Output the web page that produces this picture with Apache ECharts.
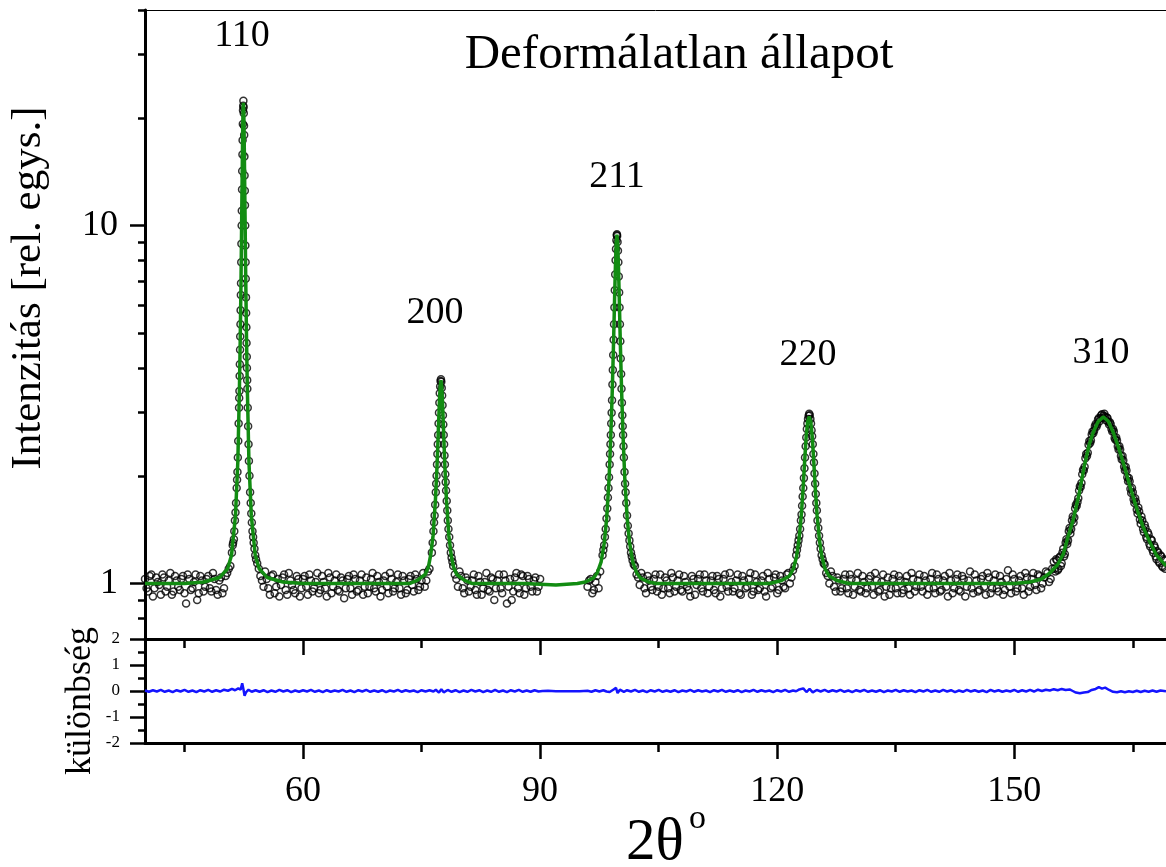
<!DOCTYPE html>
<html><head><meta charset="utf-8">
<script src="https://cdn.jsdelivr.net/npm/echarts@6/dist/echarts.min.js"></script>
<style>html,body{margin:0;padding:0;background:#fff}#c{width:1166px;height:867px}</style>
</head><body><div id="c"></div><script>
// ---- axis ranges / ticks ----
const xMin = 40, xMax = 169.2;
const xMajorTicks = [60, 90, 120, 150];
const xMinorTicks = [45, 75, 105, 135, 165];
const yTopMin = 0.7, yTopMax = 40;
const yTopMajorTicks = [1, 10];
const yTopMinorTicks = [0.8, 0.9, 2, 3, 4, 5, 6, 7, 8, 9, 20, 30, 40];
const diffMin = -2, diffMax = 2;
const peakLabels = ['110', '200', '211', '220', '310'];

// ---- measured intensity (open circles) ----
const obsBg1 = [[40.0,1.03],[40.4,0.95],[40.8,1.06],[41.2,0.97],[41.6,1.01],[42.0,0.93],[42.4,1.04],[42.8,0.98],[43.2,1.07],[43.6,0.95],[44.0,1.02],[44.4,0.96],[44.8,1.05],[45.2,0.88],[45.6,1.03],[46.0,0.97],[46.4,1.06],[46.8,0.94],[47.2,1.02],[47.6,0.98],[48.0,1.05],[48.4,0.95],[48.8,1.03],[49.2,0.93],[49.6,1.04],[50.0,0.97],[50.4,1.07],[50.8,1.12]];
const obsBg1b = [[40.2,0.97],[40.6,1.05],[41.0,0.92],[41.4,1.04],[41.8,0.99],[42.2,1.06],[42.6,0.95],[43.0,1.02],[43.4,0.93],[43.8,1.05],[44.2,0.98],[44.6,1.03],[45.0,0.94],[45.4,1.06],[45.8,0.96],[46.2,1.01],[46.6,0.9],[47.0,1.05],[47.4,0.95],[47.8,1.03],[48.2,0.97],[48.6,1.07],[49.0,0.96],[49.4,1.02],[49.8,0.94],[50.2,1.05],[50.6,1.1]];
const obsPeak110 = [[51.0,1.22],[51.15,1.3],[51.3,1.4],[51.45,1.58],[51.6,1.85],[51.7,2.05],[51.8,2.5],[51.9,3.1],[51.95,3.45],[52.0,4.1],[52.05,4.9],[52.1,5.8],[52.15,6.9],[52.2,8.9],[52.25,11.0],[52.3,14.2],[52.35,17.3],[52.4,21.0],[52.45,22.3],[52.5,20.6],[52.55,17.9],[52.6,13.8],[52.65,11.4],[52.7,8.8],[52.75,7.1],[52.8,5.7],[52.85,4.7],[52.9,4.0],[52.95,3.5],[53.05,2.75],[53.15,2.2],[53.3,1.8],[53.45,1.57],[53.6,1.4],[53.75,1.3],[53.95,1.2],[54.2,1.14]];
const obsPeak110b = [[51.1,1.28],[51.25,1.33],[51.38,1.5],[51.52,1.68],[51.65,1.95],[51.75,2.25],[51.85,2.8],[51.92,3.3],[51.98,3.8],[52.03,4.5],[52.08,5.3],[52.13,6.4],[52.18,7.9],[52.23,10.0],[52.28,12.6],[52.33,15.8],[52.38,19.2],[52.43,21.6],[52.48,21.4],[52.53,19.0],[52.58,15.6],[52.63,12.5],[52.68,10.0],[52.73,7.9],[52.78,6.3],[52.83,5.2],[52.88,4.3],[52.93,3.7],[53.0,3.1],[53.1,2.45],[53.22,2.0],[53.38,1.68],[53.52,1.48],[53.68,1.35],[53.85,1.25],[54.05,1.17]];
const obsBg2 = [[54.4,1.1],[54.8,1.02],[55.2,1.08],[55.6,0.97],[56.0,1.05],[56.4,0.94],[56.8,1.03],[57.2,0.99],[57.6,1.06],[58.0,0.93],[58.4,1.02],[58.8,0.96],[59.2,1.05],[59.6,0.92],[60.0,1.03],[60.4,0.98],[60.8,1.06],[61.2,0.95],[61.6,1.01],[62.0,0.94],[62.4,1.05],[62.8,0.97],[63.2,1.07],[63.6,0.94],[64.0,1.02],[64.4,0.96],[64.8,1.04],[65.2,0.91],[65.6,1.03],[66.0,0.97],[66.4,1.06],[66.8,0.95],[67.2,1.02],[67.6,0.93],[68.0,1.04],[68.4,0.98],[68.8,1.07],[69.2,0.95],[69.6,1.01],[70.0,0.96],[70.4,1.05],[70.8,0.94],[71.2,1.03],[71.6,0.97],[72.0,1.06],[72.4,0.93],[72.8,1.02],[73.2,0.96],[73.6,1.05],[74.0,0.95],[74.4,1.03],[74.8,0.98],[75.2,1.07],[75.6,1.02],[76.0,1.1]];
const obsBg2b = [[54.6,1.05],[55.0,0.98],[55.4,1.03],[55.8,0.93],[56.2,1.06],[56.6,0.98],[57.0,0.92],[57.4,1.04],[57.8,0.96],[58.2,1.07],[58.6,0.99],[59.0,0.94],[59.4,1.03],[59.8,0.97],[60.2,1.05],[60.6,0.93],[61.0,1.02],[61.4,0.97],[61.8,1.07],[62.2,0.96],[62.6,1.01],[63.0,0.92],[63.4,1.04],[63.8,0.98],[64.2,1.06],[64.6,0.95],[65.0,1.02],[65.4,0.97],[65.8,1.05],[66.2,0.93],[66.6,1.03],[67.0,0.96],[67.4,1.06],[67.8,0.98],[68.2,0.94],[68.6,1.03],[69.0,0.97],[69.4,1.05],[69.8,0.92],[70.2,1.02],[70.6,0.98],[71.0,1.07],[71.4,0.95],[71.8,1.01],[72.2,0.97],[72.6,1.05],[73.0,0.94],[73.4,1.03],[73.8,0.99],[74.2,1.06],[74.6,0.96],[75.0,1.02],[75.4,0.98],[75.8,1.08]];
const obsPeak200 = [[76.3,1.22],[76.5,1.4],[76.65,1.55],[76.8,1.8],[76.9,2.0],[77.0,2.3],[77.1,2.6],[77.2,3.0],[77.3,3.4],[77.4,3.68],[77.5,3.66],[77.6,3.35],[77.7,2.95],[77.8,2.6],[77.9,2.28],[78.0,2.02],[78.1,1.82],[78.25,1.6],[78.4,1.42],[78.6,1.28],[78.8,1.18]];
const obsPeak200b = [[76.4,1.3],[76.58,1.48],[76.72,1.66],[76.85,1.9],[76.95,2.15],[77.05,2.45],[77.15,2.8],[77.25,3.2],[77.35,3.55],[77.45,3.72],[77.55,3.52],[77.65,3.15],[77.75,2.78],[77.85,2.45],[77.95,2.15],[78.05,1.92],[78.18,1.7],[78.32,1.5],[78.5,1.35],[78.7,1.22],[78.9,1.15]];
const obsBg3 = [[79.0,1.12],[79.4,1.03],[79.8,1.08],[80.2,0.97],[80.6,1.04],[81.0,0.95],[81.4,1.02],[81.8,0.96],[82.2,1.05],[82.6,0.93],[83.0,1.01],[83.4,0.96],[83.8,1.04],[84.2,0.9],[84.6,1.02],[85.0,0.97],[85.4,1.06],[85.8,0.88],[86.2,1.03],[86.6,0.95],[87.0,1.07],[87.4,0.94],[87.8,1.05],[88.2,0.97],[88.6,1.03],[89.0,0.95],[89.4,1.04],[89.8,0.98]];
const obsBg3b = [[79.2,1.06],[79.6,0.98],[80.0,1.05],[80.4,0.94],[80.8,1.02],[81.2,0.98],[81.6,1.06],[82.0,0.93],[82.4,1.01],[82.8,0.97],[83.2,1.07],[83.6,0.95],[84.0,1.03],[84.4,0.97],[84.8,1.06],[85.2,0.94],[85.6,1.02],[86.0,0.98],[86.4,0.9],[86.8,1.04],[87.2,0.97],[87.6,1.06],[88.0,0.93],[88.4,1.05],[88.8,0.98],[89.2,1.02],[89.6,0.95],[90.0,1.03]];
const obsBg4 = [[96.0,0.98],[96.2,1.02],[96.4,1.03],[96.6,0.94],[96.8,0.96],[97.0,1.01],[97.2,1.05],[97.4,0.97],[97.6,1.08]];
const obsPeak211 = [[97.9,1.2],[98.1,1.28],[98.3,1.42],[98.5,1.62],[98.65,1.85],[98.8,2.15],[98.9,2.45],[99.0,2.8],[99.1,3.25],[99.2,3.95],[99.3,4.8],[99.4,5.9],[99.5,7.3],[99.6,8.6],[99.7,9.4],[99.75,9.35],[99.8,9.0],[99.9,7.9],[100.0,6.5],[100.1,5.3],[100.2,4.25],[100.3,3.5],[100.4,2.95],[100.5,2.6],[100.6,2.25],[100.75,1.9],[100.9,1.68],[101.1,1.45],[101.3,1.32],[101.5,1.22],[101.7,1.16]];
const obsPeak211b = [[98.0,1.24],[98.2,1.35],[98.4,1.52],[98.58,1.74],[98.72,1.98],[98.85,2.3],[98.95,2.6],[99.05,3.0],[99.15,3.6],[99.25,4.35],[99.35,5.3],[99.45,6.6],[99.55,8.0],[99.65,9.1],[99.72,9.45],[99.85,8.5],[99.95,7.2],[100.05,5.9],[100.15,4.75],[100.25,3.85],[100.35,3.2],[100.45,2.75],[100.55,2.42],[100.68,2.05],[100.82,1.8],[101.0,1.55],[101.2,1.38],[101.4,1.27],[101.6,1.19],[101.85,1.13]];
const obsBg5 = [[102.0,1.12],[102.4,1.04],[102.8,1.07],[103.2,0.97],[103.6,1.05],[104.0,0.98],[104.4,1.03],[104.8,0.95],[105.2,1.06],[105.6,0.97],[106.0,1.02],[106.4,0.94],[106.8,1.04],[107.2,0.98],[107.6,1.06],[108.0,0.95],[108.4,1.01],[108.8,0.96],[109.2,1.05],[109.6,0.93],[110.0,1.03],[110.4,0.97],[110.8,1.06],[111.2,0.94],[111.6,1.02],[112.0,0.96],[112.4,1.05],[112.8,0.92],[113.2,1.03],[113.6,0.98],[114.0,1.07],[114.4,0.95],[114.8,1.02],[115.2,0.94],[115.6,1.05],[116.0,0.97],[116.4,1.03],[116.8,0.93],[117.2,1.06],[117.6,0.96],[118.0,1.02],[118.4,0.95],[118.8,1.07],[119.2,0.97],[119.6,1.04],[120.0,0.94],[120.4,1.05],[120.8,0.98],[121.2,1.06],[121.6,1.0],[122.0,1.09]];
const obsBg5b = [[102.2,1.06],[102.6,0.99],[103.0,1.04],[103.4,0.94],[103.8,1.02],[104.2,0.96],[104.6,1.06],[105.0,0.98],[105.4,0.93],[105.8,1.04],[106.2,0.97],[106.6,1.07],[107.0,0.95],[107.4,1.02],[107.8,0.96],[108.2,1.05],[108.6,0.98],[109.0,0.92],[109.4,1.03],[109.8,0.99],[110.2,1.06],[110.6,0.95],[111.0,1.02],[111.4,0.98],[111.8,1.05],[112.2,0.94],[112.6,1.03],[113.0,0.97],[113.4,1.06],[113.8,0.95],[114.2,1.01],[114.6,0.97],[115.0,1.06],[115.4,0.93],[115.8,1.02],[116.2,0.98],[116.6,1.07],[117.0,0.95],[117.4,1.01],[117.8,0.97],[118.2,1.05],[118.6,0.92],[119.0,1.03],[119.4,0.98],[119.8,1.06],[120.2,0.96],[120.6,1.02],[121.0,0.97],[121.4,1.07],[121.8,1.04],[122.2,1.12]];
const obsPeak220 = [[122.4,1.2],[122.6,1.28],[122.8,1.36],[123.0,1.5],[123.15,1.65],[123.3,1.85],[123.45,2.1],[123.6,2.42],[123.75,2.7],[123.9,2.88],[124.05,2.98],[124.2,2.88],[124.35,2.68],[124.5,2.45],[124.65,2.18],[124.8,1.9],[124.95,1.68],[125.1,1.5],[125.3,1.36],[125.5,1.25],[125.75,1.17]];
const obsPeak220b = [[122.5,1.24],[122.7,1.32],[122.9,1.42],[123.08,1.56],[123.22,1.75],[123.38,1.97],[123.52,2.25],[123.68,2.56],[123.82,2.8],[123.98,2.94],[124.12,2.95],[124.28,2.8],[124.42,2.58],[124.58,2.3],[124.72,2.03],[124.88,1.78],[125.02,1.6],[125.2,1.43],[125.4,1.3],[125.62,1.2],[125.88,1.14]];
const obsBg6 = [[126.0,1.13],[126.4,1.05],[126.8,1.08],[127.2,0.98],[127.6,1.04],[128.0,0.95],[128.4,1.03],[128.8,0.97],[129.2,1.06],[129.6,0.93],[130.0,1.02],[130.4,0.96],[130.8,1.05],[131.2,0.94],[131.6,1.03],[132.0,0.98],[132.4,1.07],[132.8,0.95],[133.2,1.01],[133.6,0.92],[134.0,1.04],[134.4,0.97],[134.8,1.06],[135.2,0.94],[135.6,1.02],[136.0,0.96],[136.4,1.05],[136.8,0.93],[137.2,1.03],[137.6,0.98],[138.0,1.06],[138.4,0.95],[138.8,1.02],[139.2,0.97],[139.6,1.07],[140.0,0.94],[140.4,1.03],[140.8,0.96],[141.2,1.05],[141.6,0.92],[142.0,1.02],[142.4,0.97],[142.8,1.06],[143.2,0.95],[143.6,1.03],[144.0,0.98],[144.4,1.08],[144.8,0.94],[145.2,1.02],[145.6,0.96],[146.0,1.05],[146.4,0.93],[146.8,1.04],[147.2,0.97],[147.6,1.06],[148.0,0.95],[148.4,1.01],[148.8,0.96],[149.2,1.09],[149.6,0.94],[150.0,1.03],[150.4,0.97],[150.8,1.05],[151.2,0.93],[151.6,1.04],[152.0,0.98],[152.4,1.07],[152.8,0.96],[153.2,1.05],[153.6,1.0],[154.0,1.08],[154.4,1.01],[154.8,1.1]];
const obsBg6b = [[126.2,1.07],[126.6,1.0],[127.0,1.05],[127.4,0.95],[127.8,1.02],[128.2,0.97],[128.6,1.06],[129.0,0.94],[129.4,1.03],[129.8,0.98],[130.2,1.07],[130.6,0.95],[131.0,1.01],[131.4,0.97],[131.8,1.05],[132.2,0.93],[132.6,1.02],[133.0,0.96],[133.4,1.06],[133.8,0.98],[134.2,0.93],[134.6,1.03],[135.0,0.97],[135.4,1.05],[135.8,0.94],[136.2,1.01],[136.6,0.97],[137.0,1.07],[137.4,0.95],[137.8,1.02],[138.2,0.98],[138.6,1.05],[139.0,0.93],[139.4,1.03],[139.8,0.97],[140.2,1.06],[140.6,0.95],[141.0,1.02],[141.4,0.98],[141.8,1.07],[142.2,0.94],[142.6,1.03],[143.0,0.96],[143.4,1.05],[143.8,0.92],[144.2,1.02],[144.6,0.97],[145.0,1.06],[145.4,0.95],[145.8,1.03],[146.2,0.98],[146.6,1.07],[147.0,0.94],[147.4,1.02],[147.8,0.97],[148.2,1.05],[148.6,0.93],[149.0,1.03],[149.4,0.98],[149.8,1.06],[150.2,0.95],[150.6,1.02],[151.0,0.97],[151.4,1.07],[151.8,0.95],[152.2,1.03],[152.6,0.99],[153.0,1.06],[153.4,0.97],[153.8,1.04],[154.2,1.07],[154.6,1.03]];
const obsPeak310 = [[155.0,1.15],[155.2,1.08],[155.4,1.16],[155.6,1.1],[155.8,1.19],[156.0,1.14],[156.2,1.25],[156.4,1.21],[156.6,1.33],[156.8,1.32],[157.0,1.43],[157.2,1.42],[157.4,1.54],[157.6,1.53],[157.8,1.66],[158.0,1.69],[158.2,1.82],[158.4,1.86],[158.6,2.02],[158.8,2.07],[159.0,2.24],[159.2,2.27],[159.4,2.44],[159.6,2.47],[159.8,2.61],[160.0,2.63],[160.2,2.75],[160.4,2.74],[160.6,2.87],[160.8,2.84],[161.0,2.95],[161.2,2.9],[161.4,2.98],[161.6,2.86],[161.8,2.9],[162.0,2.78],[162.2,2.79],[162.4,2.66],[162.6,2.66],[162.8,2.52],[163.0,2.51],[163.2,2.37],[163.4,2.37],[163.6,2.22],[163.8,2.21],[164.0,2.07],[164.2,2.07],[164.4,1.93],[164.6,1.93],[164.8,1.79],[165.0,1.8],[165.2,1.68],[165.4,1.69],[165.6,1.57],[165.8,1.59],[166.0,1.47],[166.2,1.5],[166.4,1.39],[166.6,1.43],[166.8,1.33],[167.0,1.37],[167.2,1.27],[167.4,1.32],[167.6,1.22],[167.8,1.26],[168.0,1.17],[168.2,1.22],[168.4,1.14],[168.6,1.19],[168.8,1.11],[169.0,1.16]];
const obsPeak310b = [[155.1,1.1],[155.3,1.17],[155.5,1.09],[155.7,1.18],[155.9,1.12],[156.1,1.22],[156.3,1.19],[156.5,1.3],[156.7,1.29],[156.9,1.4],[157.1,1.38],[157.3,1.5],[157.5,1.48],[157.7,1.62],[157.9,1.65],[158.1,1.73],[158.3,1.87],[158.5,1.91],[158.7,2.08],[158.9,2.12],[159.1,2.3],[159.3,2.32],[159.5,2.5],[159.7,2.51],[159.9,2.66],[160.1,2.67],[160.3,2.79],[160.5,2.78],[160.7,2.9],[160.9,2.89],[161.1,2.97],[161.3,2.94],[161.5,2.93],[161.7,2.91],[161.9,2.83],[162.1,2.82],[162.3,2.7],[162.5,2.7],[162.7,2.55],[162.9,2.56],[163.1,2.42],[163.3,2.42],[163.5,2.27],[163.7,2.27],[163.9,2.12],[164.1,2.12],[164.3,1.98],[164.5,1.97],[164.7,1.84],[164.9,1.85],[165.1,1.72],[165.3,1.73],[165.5,1.61],[165.7,1.63],[165.9,1.51],[166.1,1.54],[166.3,1.42],[166.5,1.46],[166.7,1.35],[166.9,1.39],[167.1,1.29],[167.3,1.33],[167.5,1.24],[167.7,1.28],[167.9,1.19],[168.1,1.23],[168.3,1.15],[168.5,1.2],[168.7,1.12],[168.9,1.17],[169.1,1.1]];

// ---- fitted profile (green) ----
const fitCurve = [[40,1.0],[45,1.0],[47.45,1.01],[49.45,1.04],[50.45,1.1],[50.95,1.2],[51.45,1.55],[51.75,2.2],[51.95,3.5],[52.05,4.8],[52.15,7.0],[52.25,11.2],[52.3,14.0],[52.35,17.6],[52.4,20.8],[52.45,22.0],[52.5,20.8],[52.55,17.6],[52.6,14.0],[52.65,11.2],[52.75,7.0],[52.85,4.8],[52.95,3.5],[53.15,2.2],[53.45,1.55],[53.95,1.2],[54.45,1.1],[55.45,1.04],[57.45,1.01],[60,1.0],
[70,1.0],[73.45,1.0],[74.45,1.02],[75.45,1.06],[75.85,1.11],[76.15,1.2],[76.45,1.36],[76.75,1.71],[76.95,2.12],[77.05,2.42],[77.15,2.79],[77.25,3.2],[77.35,3.56],[77.45,3.7],[77.55,3.56],[77.65,3.2],[77.75,2.79],[77.85,2.42],[77.95,2.12],[78.15,1.71],[78.45,1.36],[78.75,1.2],[79.05,1.11],[79.45,1.06],[80.45,1.02],[81.45,1.0],
[88,1.0],[92,0.99],[94.72,1.0],[95.72,1.01],[96.72,1.035],[97.22,1.07],[97.72,1.15],[98.12,1.3],[98.42,1.52],[98.72,1.95],[98.92,2.5],[99.12,3.4],[99.22,4.1],[99.32,5.0],[99.42,6.2],[99.52,7.6],[99.62,8.9],[99.72,9.43],[99.82,8.9],[99.92,7.6],[100.02,6.2],[100.12,5.0],[100.22,4.1],[100.32,3.4],[100.52,2.5],[100.72,1.95],[101.02,1.52],[101.32,1.3],[101.72,1.15],[102.22,1.07],[102.72,1.035],[103.72,1.01],[104.72,1.0],
[115,1.0],[119.05,1.0],[120.55,1.02],[121.55,1.05],[122.05,1.1],[122.45,1.19],[122.75,1.32],[123.05,1.55],[123.25,1.8],[123.45,2.15],[123.65,2.55],[123.85,2.83],[124.05,2.93],[124.25,2.83],[124.45,2.55],[124.65,2.15],[124.85,1.8],[125.05,1.55],[125.35,1.32],[125.65,1.19],[126.05,1.1],[126.55,1.05],[127.55,1.02],[129.05,1.0],
[145,1.0],[150,1.0],[152,1.01],[153.5,1.03],[154.5,1.07],[155.5,1.13],[156.2,1.21],[156.8,1.35],[157.5,1.52],[158.2,1.78],[158.9,2.15],[159.5,2.45],[160.0,2.65],[160.6,2.83],[161.25,2.92],[161.9,2.84],[162.5,2.65],[163.2,2.4],[164.0,2.1],[164.8,1.82],[165.5,1.62],[166.3,1.44],[167.2,1.3],[168.0,1.2],[169.2,1.12]];

// ---- difference (blue) ----
const diffData = [[40,0.02],[40.5,-0.03],[41,0.03],[41.5,-0.02],[42,0.04],[42.5,-0.03],[43,0.02],[43.5,-0.04],[44,0.03],[44.5,-0.02],[45,0.04],[45.5,-0.03],[46,0.02],[46.5,-0.04],[47,0.03],[47.5,-0.02],[48,0.04],[48.5,-0.03],[49,0.03],[49.5,-0.02],[50,0.05],[50.5,0.01],[51.0,0.08],[51.4,0.03],[51.8,0.1],[52.1,0.05],[52.3,0.3],[52.45,0.08],[52.6,-0.18],[52.8,-0.04],[53.1,0.05],[53.5,-0.03],[54,0.03],[54.5,-0.03],[55,0.03],[55.5,-0.04],[56,0.02],[56.5,-0.03],[57,0.04],[57.5,-0.02],[58,0.03],[58.5,-0.04],[59,0.02],[59.5,-0.03],[60,0.03],[60.5,-0.02],[61,0.04],[61.5,-0.03],[62,0.02],[62.5,-0.04],[63,0.03],[63.5,-0.03],[64,0.02],[64.5,-0.02],[65,0.04],[65.5,-0.03],[66,0.02],[66.5,-0.04],[67,0.03],[67.5,-0.02],[68,0.04],[68.5,-0.03],[69,0.02],[69.5,-0.03],[70,0.03],[70.5,-0.04],[71,0.02],[71.5,-0.02],[72,0.04],[72.5,-0.03],[73,0.03],[73.5,-0.02],[74,0.02],[74.5,-0.04],[75,0.03],[75.5,-0.02],[76,0.03],[76.5,-0.02],[76.8,0.05],[77.2,-0.06],[77.5,0.07],[77.8,-0.05],[78.3,0.04],[78.8,-0.03],[79.3,0.03],[79.8,-0.04],[80.3,0.02],[80.8,-0.03],[81.3,0.04],[81.8,-0.02],[82.3,0.03],[82.8,-0.04],[83.3,0.02],[83.8,-0.03],[84.3,0.04],[84.8,-0.03],[85.3,0.02],[85.8,-0.04],[86.3,0.03],[86.8,-0.02],[87.3,0.04],[87.8,-0.03],[88.3,0.02],[88.8,-0.03],[89.3,0.03],[89.8,-0.02],[90.3,0.0],[91,0.005],[92,-0.005],[93,-0.01],[94,-0.005],[95,-0.01],[96,0.01],[96.5,-0.03],[97,0.03],[97.5,-0.02],[98,0.03],[98.4,-0.02],[98.8,-0.04],[99.3,0.06],[99.6,0.12],[99.8,-0.08],[100.1,0.05],[100.6,-0.03],[101,0.03],[101.5,-0.02],[102,0.04],[102.5,-0.03],[103,0.02],[103.5,-0.04],[104,0.03],[104.5,-0.02],[105,0.04],[105.5,-0.03],[106,0.02],[106.5,-0.03],[107,0.03],[107.5,-0.04],[108,0.02],[108.5,-0.02],[109,0.04],[109.5,-0.03],[110,0.03],[110.5,-0.02],[111,0.02],[111.5,-0.04],[112,0.03],[112.5,-0.02],[113,0.04],[113.5,-0.03],[114,0.02],[114.5,-0.03],[115,0.03],[115.5,-0.04],[116,0.02],[116.5,-0.02],[117,0.04],[117.5,-0.03],[118,0.03],[118.5,-0.02],[119,0.02],[119.5,-0.04],[120,0.03],[120.5,-0.02],[121,0.04],[121.5,-0.03],[122,0.02],[122.4,-0.01],[122.8,0.06],[123.3,0.1],[123.7,-0.04],[124.1,0.08],[124.5,-0.05],[125,0.04],[125.5,-0.02],[126,0.04],[126.5,-0.03],[127,0.03],[127.5,-0.02],[128,0.04],[128.5,-0.03],[129,0.02],[129.5,-0.04],[130,0.03],[130.5,-0.02],[131,0.04],[131.5,-0.03],[132,0.02],[132.5,-0.03],[133,0.03],[133.5,-0.04],[134,0.02],[134.5,-0.02],[135,0.04],[135.5,-0.03],[136,0.03],[136.5,-0.02],[137,0.02],[137.5,-0.04],[138,0.03],[138.5,-0.02],[139,0.04],[139.5,-0.03],[140,0.02],[140.5,-0.03],[141,0.04],[141.5,-0.02],[142,0.03],[142.5,-0.04],[143,0.02],[143.5,-0.03],[144,0.04],[144.5,-0.02],[145,0.03],[145.5,-0.03],[146,0.02],[146.5,-0.04],[147,0.04],[147.5,-0.02],[148,0.03],[148.5,-0.03],[149,0.02],[149.5,-0.02],[150,0.04],[150.5,-0.03],[151,0.03],[151.5,-0.02],[152,0.04],[152.5,-0.02],[153,0.05],[153.5,0.0],[154,0.05],[154.5,0.02],[155,0.07],[155.5,0.03],[156,0.08],[156.5,0.04],[157,0.06],[157.4,0.0],[157.8,-0.06],[158.3,-0.09],[158.8,-0.06],[159.3,-0.04],[159.8,0.04],[160.3,0.08],[160.7,0.15],[161.1,0.09],[161.5,0.13],[162,0.04],[162.5,-0.03],[163,-0.05],[163.5,-0.01],[164,-0.05],[164.5,-0.01],[165,-0.04],[165.5,0.01],[166,-0.04],[166.5,0.01],[167,-0.03],[167.5,0.02],[168,-0.03],[168.5,0.02],[169.2,-0.01]];

const obsAll = [].concat(obsBg1, obsBg1b, obsPeak110, obsPeak110b, obsBg2, obsBg2b, obsPeak200, obsPeak200b,
  obsBg3, obsBg3b, obsBg4, obsPeak211, obsPeak211b, obsBg5, obsBg5b, obsPeak220, obsPeak220b, obsBg6, obsBg6b, obsPeak310, obsPeak310b);

const serif = '"Liberation Serif","Times New Roman",serif';
const black = '#000';
const L10 = v => Math.log10(v);

function xAx(grid, pos, ticks, len, showLine, lineW, labels) {
  return {
    gridIndex: grid, type: 'value', min: xMin, max: xMax, position: pos,
    axisLine: {show: showLine, onZero: false, lineStyle: {color: black, width: lineW}},
    axisTick: {show: !!ticks, customValues: ticks || undefined, length: len, lineStyle: {color: black, width: 2.5}},
    axisLabel: labels ? {show: true, customValues: ticks, margin: 31, fontSize: 36, fontFamily: serif, color: black} : {show: false},
    splitLine: {show: false}
  };
}
function txt(x, y, text, size, align, rot) {
  return {type: 'text', x: x, y: y, rotation: rot || 0,
    style: {text: text, fontSize: size, fontFamily: serif, fill: black, align: align, verticalAlign: 'middle', textAlign: align, textVerticalAlign: 'middle'}};
}

const chart = echarts.init(document.getElementById('c'));
const option = {
  animation: false,
  backgroundColor: '#fff',
  grid: [
    {left: 145, top: 10, right: 0, height: 629, outerBoundsMode: 'none'},
    {left: 145, top: 639, right: 0, height: 104, outerBoundsMode: 'none'}
  ],
  xAxis: [
    xAx(0, 'bottom', xMajorTicks, 16, true, 3, false),
    xAx(0, 'bottom', xMinorTicks, 9, false, 3, false),
    xAx(0, 'top', null, 0, true, 1, false),
    xAx(1, 'bottom', xMajorTicks, 16, true, 3, true),
    xAx(1, 'bottom', xMinorTicks, 9, false, 3, false)
  ],
  yAxis: [
    {gridIndex: 0, type: 'log', logBase: 10, min: yTopMin, max: yTopMax, position: 'left',
     axisLine: {show: true, onZero: false, lineStyle: {color: black, width: 3}},
     axisTick: {show: false}, axisLabel: {show: false}, splitLine: {show: false}, minorTick: {show: false}},
    {gridIndex: 0, type: 'value', min: L10(yTopMin), max: L10(yTopMax), position: 'left',
     axisLine: {show: false, onZero: false},
     axisTick: {show: true, customValues: yTopMajorTicks.map(L10), length: 15, lineStyle: {color: black, width: 2.5}},
     axisLabel: {show: true, customValues: yTopMajorTicks.map(L10), margin: 27, fontSize: 36, fontFamily: serif, color: black,
       formatter: v => String(Math.round(Math.pow(10, v)))},
     splitLine: {show: false}},
    {gridIndex: 0, type: 'value', min: L10(yTopMin), max: L10(yTopMax), position: 'left',
     axisLine: {show: false, onZero: false},
     axisTick: {show: true, customValues: yTopMinorTicks.map(L10), length: 7, lineStyle: {color: black, width: 2.5}},
     axisLabel: {show: false}, splitLine: {show: false}},
    {gridIndex: 1, type: 'value', min: diffMin, max: diffMax, interval: 1, position: 'left',
     axisLine: {show: true, onZero: false, lineStyle: {color: black, width: 3}},
     axisTick: {show: true, length: 15, lineStyle: {color: black, width: 2.5}},
     minorTick: {show: true, splitNumber: 2, length: 7, lineStyle: {color: black, width: 2.5}},
     axisLabel: {show: true, margin: 25, fontSize: 17, fontFamily: serif, color: black},
     splitLine: {show: false}, minorSplitLine: {show: false}}
  ],
  series: [
    {type: 'scatter', xAxisIndex: 0, yAxisIndex: 0, data: obsAll, symbol: 'circle', symbolSize: 7,
     itemStyle: {color: 'rgba(0,0,0,0)', borderColor: black, borderWidth: 1.5}, silent: true, z: 2},
    {type: 'line', xAxisIndex: 0, yAxisIndex: 0, data: fitCurve, symbol: 'none', showSymbol: false,
     lineStyle: {color: '#128c12', width: 3.5}, silent: true, z: 3},
    {type: 'line', xAxisIndex: 3, yAxisIndex: 3, data: diffData, symbol: 'none', showSymbol: false,
     lineStyle: {color: '#1414ff', width: 2.5}, silent: true, z: 3}
  ],
  graphic: [
    txt(679, 55, 'Deformálatlan állapot', 49, 'center'),
    txt(29, 288, 'Intenzitás [rel. egys.]', 43, 'center', Math.PI / 2),
    txt(81, 701, 'különbség', 36, 'center', Math.PI / 2),
    txt(626, 843, '2θ', 59, 'left'),
    txt(689, 819, 'o', 34, 'left'),
    txt(242, 36, peakLabels[0], 38, 'center'),
    txt(435, 313, peakLabels[1], 38, 'center'),
    txt(617, 177, peakLabels[2], 38, 'center'),
    txt(808, 355, peakLabels[3], 38, 'center'),
    txt(1101, 353, peakLabels[4], 38, 'center')
  ]
};
chart.setOption(option);
</script></body></html>
